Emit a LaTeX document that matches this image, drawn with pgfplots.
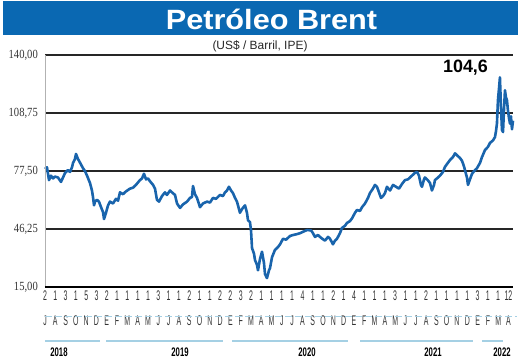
\documentclass[border=0pt]{standalone}
\usepackage{pgfplots}
\pgfplotsset{compat=1.18}
\usepackage{fontspec}
\setmainfont{Liberation Sans}
\newfontfamily\titlefont[FakeStretch=1.1]{Liberation Sans}
\newfontfamily\condsans[FakeStretch=0.5]{Liberation Sans}
\newfontfamily\yearfont[FakeStretch=0.62]{Liberation Sans}
\newfontfamily\ytfont[FakeStretch=0.85]{Liberation Serif}
\definecolor{titleblue}{RGB}{10,104,178}
\definecolor{lineblue}{RGB}{25,100,172}
\definecolor{lightblue}{RGB}{165,208,228}
\begin{document}
\begin{tikzpicture}[x=1bp,y=1bp]
\fill[titleblue] (-42,252) rectangle (473,286);
\node[white,anchor=base,inner sep=0pt,font=\titlefont\bfseries\fontsize{28}{28}\selectfont] at (226.5,257.7) {Petróleo Brent};
\node[black!85,anchor=base,inner sep=0pt,font=\fontsize{12}{12}\selectfont] at (215,238) {(US\$ / Barril, IPE)};
\begin{axis}[
  at={(0,0)}, anchor=south west,
  scale only axis, width=468bp, height=232bp,
  xmin=0, xmax=45.44, ymin=15, ymax=140,
  clip=false,
  axis line style={draw=none},
  tick style={draw=none},
  ymajorgrids,
  grid style={black!85, line width=1.3bp},
  ytick={15,46.25,77.5,108.75,140},
  yticklabels={{15,00},{46,25},{77,50},{108,75},{140,00}},
  yticklabel style={anchor=east, inner sep=0pt, xshift=-7bp, text=black!80, font=\ytfont\fontsize{12.5}{12.5}\selectfont},
  xtick={0,...,45},
  xticklabels={2,1,3,1,5,3,2,1,1,1,1,3,1,1,2,1,1,2,2,3,2,1,1,1,1,4,1,1,2,1,4,1,1,1,3,1,1,2,1,1,1,1,3,1,1,12},
  xticklabel style={anchor=center, inner sep=0pt, text height=10bp, text depth=0pt, yshift=-8.5bp, text=black!80, font=\condsans\fontsize{14}{14}\selectfont},
  extra x ticks={0,...,45},
  extra x tick labels={J,A,S,O,N,D,E,F,M,A,M,J,J,A,S,O,N,D,E,F,M,A,M,J,J,A,S,O,N,D,E,F,M,A,M,J,J,A,S,O,N,D,E,F,M,A},
  extra x tick style={tick label style={yshift=-24.5bp}, grid=none},
]
\addplot[lineblue, line width=2.6bp, line join=round, mark=none] table {
0.00 78.6
0.19 79.5
0.39 72.6
0.58 75.0
0.78 73.5
0.97 74.5
1.26 74.0
1.55 71.6
1.75 74.0
1.94 76.4
2.23 78.0
2.43 77.0
2.62 79.5
2.72 81.8
2.91 84.0
3.01 86.7
3.20 84.0
3.40 82.0
3.69 79.0
3.88 77.5
4.08 75.0
4.37 71.0
4.56 67.0
4.66 63.5
4.76 59.0
4.85 61.0
5.05 62.0
5.24 61.0
5.44 58.0
5.63 55.4
5.73 51.6
5.92 55.0
6.12 59.0
6.31 61.0
6.60 60.0
6.89 62.5
7.09 61.5
7.28 66.0
7.57 65.0
7.86 66.5
8.25 68.0
8.54 68.5
8.83 70.0
9.22 72.6
9.42 73.5
9.61 76.0
9.81 73.0
10.00 73.5
10.19 72.0
10.49 70.0
10.68 68.0
10.87 62.0
11.07 61.0
11.36 64.0
11.65 66.0
11.84 64.6
12.14 67.0
12.33 66.0
12.62 64.6
12.82 60.0
13.11 57.6
13.40 59.5
13.79 61.0
14.08 63.0
14.27 63.5
14.37 69.4
14.56 65.0
14.76 63.0
15.05 58.0
15.34 60.0
15.73 61.0
16.02 60.5
16.31 63.0
16.60 62.5
16.99 64.6
17.28 64.0
17.48 66.0
17.67 67.0
17.86 69.0
18.06 67.0
18.25 65.6
18.45 63.0
18.64 61.0
18.93 55.0
19.13 57.0
19.42 59.0
19.61 55.0
19.71 51.0
19.90 50.0
20.00 45.7
20.10 36.0
20.29 33.0
20.39 29.5
20.58 27.0
20.68 24.0
20.87 30.0
21.07 34.0
21.26 28.0
21.36 22.0
21.55 19.8
21.75 24.0
21.84 25.0
22.04 31.0
22.33 35.0
22.62 36.5
22.82 38.0
23.11 41.0
23.40 40.5
23.79 42.5
24.08 43.0
24.47 43.5
24.76 44.0
25.15 45.0
25.44 45.7
25.83 45.5
26.02 44.0
26.21 42.0
26.50 43.0
26.80 41.5
27.18 40.0
27.48 42.0
27.67 41.0
27.96 38.0
28.16 40.0
28.35 41.0
28.64 44.0
28.83 46.8
29.13 48.0
29.32 49.5
29.61 50.5
29.81 52.0
30.10 55.0
30.29 56.5
30.58 56.0
30.78 58.0
31.07 60.0
31.36 63.0
31.55 65.6
31.84 68.0
32.04 70.0
32.23 69.0
32.43 66.0
32.62 63.0
32.82 64.0
33.01 65.6
33.20 69.0
33.50 67.0
33.79 70.0
34.08 69.0
34.37 68.0
34.66 70.5
34.95 72.6
35.24 73.0
35.63 75.0
35.92 76.5
36.12 77.0
36.31 75.0
36.50 70.0
36.60 69.0
36.80 73.0
36.89 74.0
37.18 72.5
37.38 71.0
37.57 67.0
37.77 70.0
37.86 72.6
38.16 74.0
38.35 75.0
38.64 77.0
38.83 79.7
39.13 82.0
39.32 83.4
39.61 85.0
39.81 87.0
40.00 86.0
40.29 84.5
40.49 83.0
40.68 80.0
40.87 76.0
40.97 74.0
41.07 70.0
41.26 73.0
41.46 76.0
41.75 78.0
41.94 79.0
42.23 81.8
42.43 85.0
42.72 88.8
43.01 90.5
43.20 92.6
43.50 94.0
43.69 95.8
43.79 99.0
43.88 103.0
43.98 115.8
44.08 122.0
44.17 128.0
44.27 112.0
44.37 99.6
44.47 98.5
44.56 110.0
44.66 121.0
44.76 117.0
44.85 115.8
44.95 110.0
45.05 106.0
45.15 103.0
45.24 107.0
45.34 100.0
45.44 104.6
};
\draw[black!30, line width=0.8bp] (axis cs:0,15) -- (axis cs:0,140);
\draw[black, line width=2bp] (axis cs:0,15) -- (axis cs:45.44,15);
\end{axis}
\node[black,anchor=base,inner sep=0pt,font=\bfseries\fontsize{18}{18}\selectfont] at (420.5,215) {104,6};
\draw[lightblue, line width=1bp, dash pattern=on 7bp off 3bp] (0,-29) -- (472,-29);
\draw[lightblue, line width=1.2bp] (0,-54) -- (55,-54);
\draw[lightblue, line width=1.2bp] (61,-54) -- (178,-54);
\draw[lightblue, line width=1.2bp] (187,-54) -- (303,-54);
\draw[lightblue, line width=1.2bp] (315,-54) -- (428,-54);
\draw[lightblue, line width=1.2bp] (437,-54) -- (458,-54);
\begin{scope}[every node/.style={anchor=base,inner sep=0pt,font=\yearfont\bfseries\fontsize{12.5}{12.5}\selectfont}]
\node at (14,-69) {2018};
\node at (135,-69) {2019};
\node at (262,-69) {2020};
\node at (388,-69) {2021};
\node at (457,-69) {2022};
\end{scope}
\pgfresetboundingbox
\path[use as bounding box] (-45,-73) rectangle (475,287);
\end{tikzpicture}
\end{document}
